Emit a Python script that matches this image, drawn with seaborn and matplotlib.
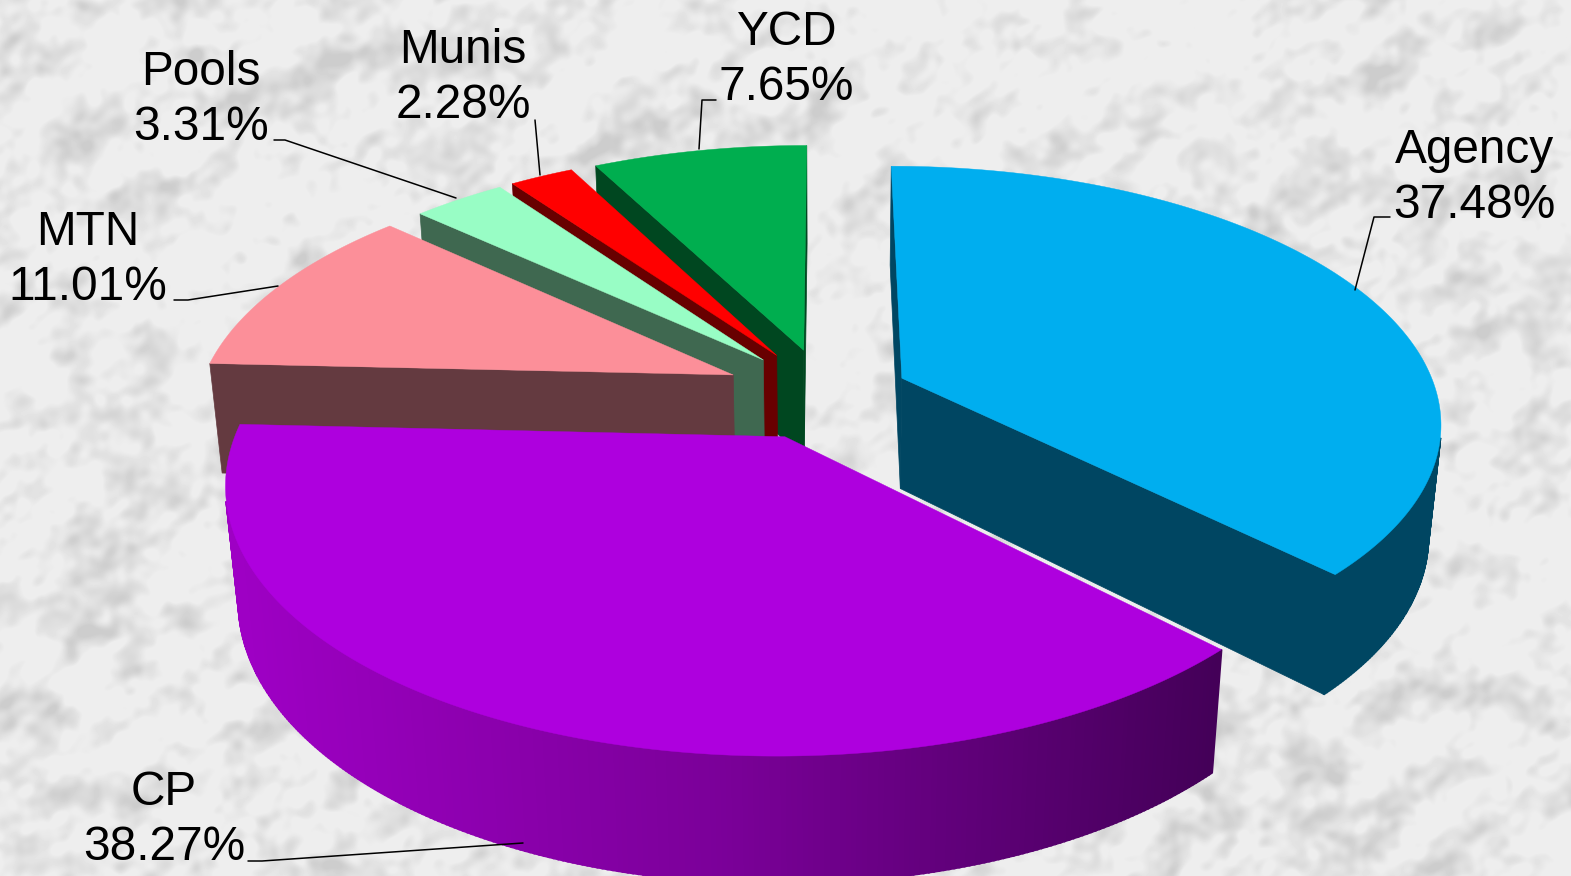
import numpy as np
import seaborn as sns
import matplotlib
matplotlib.use('Agg')
import matplotlib.pyplot as plt

# slices, clockwise from 12 o'clock
names = ['Agency', 'CP', 'MTN', 'Pools', 'Munis', 'YCD']
shares = [37.48, 38.27, 11.01, 3.31, 2.28, 7.65]

top_colors = ['#00AEEF', '#AE00DE', '#FC8F99', '#98FDC5', '#FF0000', '#00AE4F']
side_colors = ['#004662', '#660080', '#643A40', '#3F6850', '#680000', '#004720']
cp_rim = sns.blend_palette(['#9E00C4', '#7A0098', '#440058'], 256)

# how far each slice is pulled out
explode = [0.155, 0.185, 0.19, 0.18, 0.18, 0.18]

# where each label goes, and its leader line (pixels of the picture)
label_pos = {'Agency': (1474, 178), 'CP': (164, 820), 'MTN': (88, 260),
             'Pools': (201, 100), 'Munis': (463, 78), 'YCD': (786, 60)}
leaders = {'Agency': [(1390, 217), (1374, 217), (1355, 290)],
           'CP': [(248, 861), (262, 861), (523, 843)],
           'MTN': [(174, 300), (188, 300), (278, 286)],
           'Pools': [(274, 140), (285, 140), (456, 198)],
           'Munis': [(535, 120), (540, 175)],
           'YCD': [(716, 100), (702, 100), (699, 149)]}

# camera for the tilted pie
cx, cy = 826, 393
scale = 535
elev = np.radians(28)
dist = 5.4
thick = 0.24


def project(x, y, z=0.0):
    # x to the right, y towards the viewer, z up; pie radius is 1
    depth = dist - np.asarray(y) * np.cos(elev) - z * np.sin(elev)
    px = cx + scale * dist * np.asarray(x) / depth
    py = cy + scale * dist * (np.asarray(y) * np.sin(elev) - z * np.cos(elev)) / depth
    return px, py


def layers(xx, yy, low, high, count, base_ang, spread):
    tex = np.zeros(xx.shape)
    for i in range(1, count + 1):
        ang = base_ang + spread * np.sin(i * 2.399963)
        fr = low * (high / low) ** (i / count)
        u = xx * np.cos(ang) + yy * np.sin(ang)
        v = -xx * np.sin(ang) + yy * np.cos(ang)
        phase = 1.8 * np.sin(v * fr * 0.43 + i * 1.3) + 1.1 * np.sin(u * fr * 0.29 + i * 0.7)
        tex += np.sin(u * fr + phase + i * 2.1) * (low / fr) ** 0.35
    return (tex - tex.mean()) / tex.std()


def marble(w, h):
    # soft grey mottling with diagonal streaks, sines only
    yy, xx = np.mgrid[0:h, 0:w].astype(float)
    fine = layers(xx, yy, 0.04, 0.36, 44, 1.1, 0.8)
    broad = layers(xx, yy, 0.008, 0.05, 18, 1.0, 1.3)
    dark = np.clip(0.85 * fine + 0.35 * broad + 0.25, 0, 2.8)
    return (238 - 12 * dark) / 255


sns.set_theme(style='white')
plt.rcParams['font.family'] = ['Liberation Sans', 'DejaVu Sans']

fig, ax = plt.subplots(figsize=(15.71, 8.76), dpi=100)
fig.subplots_adjust(0, 0, 1, 1)
ax.imshow(marble(1571, 876), cmap='gray', vmin=0, vmax=1, extent=(0, 1571, 876, 0), aspect='auto', zorder=0)

# angles from the shares
edges = np.concatenate([[0], np.cumsum(shares)]) / 100 * 2 * np.pi
cam_y = dist * np.cos(elev)


def wall(ax0, ay0, theta, color):
    ex, ey = ax0 + np.sin(theta), ay0 - np.cos(theta)
    xs = np.array([ax0, ex, ex, ax0])
    ys = np.array([ay0, ey, ey, ay0])
    zs = [0, 0, -thick, -thick]
    pts = [project(a, b, c) for a, b, c in zip(xs, ys, zs)]
    ax.fill([p[0] for p in pts], [p[1] for p in pts], color=color, lw=0.5, zorder=2)


# back to front so nearer slices cover the ones behind
for idx in [5, 4, 3, 2, 0, 1]:
    t0, t1 = edges[idx], edges[idx + 1]
    mid = (t0 + t1) / 2
    ax0, ay0 = explode[idx] * np.sin(mid), -explode[idx] * np.cos(mid)
    col = top_colors[idx]
    side = side_colors[idx]

    # radial walls, only the ones facing the camera
    if -(np.cos(t0) * (0 - ax0) + np.sin(t0) * (cam_y - ay0)) > 0:
        wall(ax0, ay0, t0, side)
    if np.cos(t1) * (0 - ax0) + np.sin(t1) * (cam_y - ay0) > 0:
        wall(ax0, ay0, t1, side)

    # outer rim, in thin strips
    th = np.linspace(t0, t1, int((t1 - t0) * 120) + 2)
    for a, b in zip(th[:-1], th[1:]):
        m = (a + b) / 2
        dx, dy = np.sin(m), -np.cos(m)
        if dx * (0 - ax0 - dx) + dy * (cam_y - ay0 - dy) <= 0:
            continue
        rx = ax0 + np.sin([a, b])
        ry = ay0 - np.cos([a, b])
        p1, q1 = project(rx, ry)
        p2, q2 = project(rx, ry, -thick)
        strip = side
        if names[idx] == 'CP':
            pos = (p1.mean() - 235) / (1215 - 235)
            strip = cp_rim[int(np.clip(pos, 0, 1) * (len(cp_rim) - 1))]
        ax.fill([p1[0], p1[1], p2[1], p2[0]], [q1[0], q1[1], q2[1], q2[0]], color=strip, lw=1.5, zorder=2)

    # top face
    tx = np.concatenate([[ax0], ax0 + np.sin(th)])
    ty = np.concatenate([[ay0], ay0 - np.cos(th)])
    px, py = project(tx, ty)
    ax.fill(px, py, color=col, lw=0.3, zorder=2)

for name, share in zip(names, shares):
    x, y = label_pos[name]
    ax.text(x, y, f'{name}\n{share:.2f}%', ha='center', va='center', fontsize=34.4, color='black',
            linespacing=1.27, zorder=4)
    pts = leaders[name]
    ax.plot([p[0] for p in pts], [p[1] for p in pts], color='black', lw=1.1, zorder=3)

ax.set_xlim(0, 1571)
ax.set_ylim(876, 0)
ax.axis('off')
fig.savefig('out.png', dpi=100)
